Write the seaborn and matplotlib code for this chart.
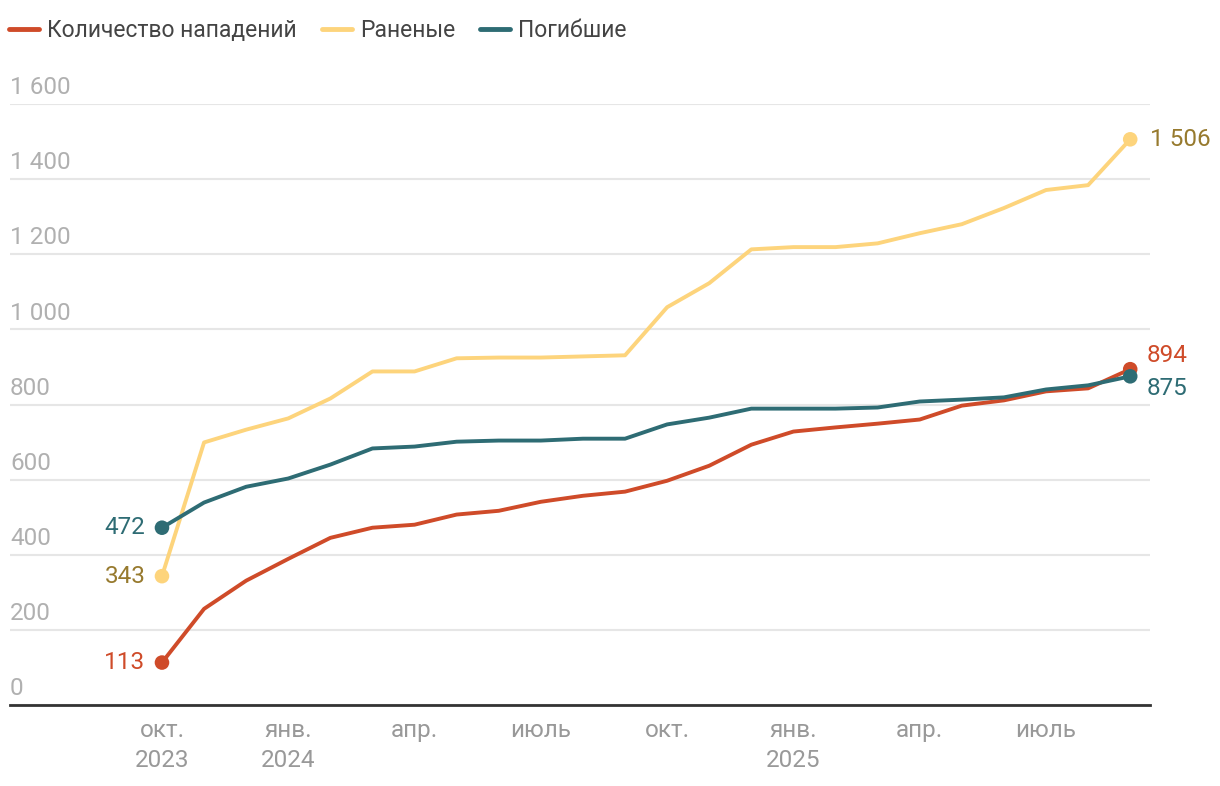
import matplotlib
matplotlib.use("Agg")
import matplotlib.pyplot as plt
import seaborn as sns
import pandas as pd
import numpy as np

# ---- data ----
months = ["2023-10", "2023-11", "2023-12", "2024-01", "2024-02", "2024-03",
          "2024-04", "2024-05", "2024-06", "2024-07", "2024-08", "2024-09",
          "2024-10", "2024-11", "2024-12", "2025-01", "2025-02", "2025-03",
          "2025-04", "2025-05", "2025-06", "2025-07", "2025-08", "2025-09"]
attacks = [113, 256, 331, 389, 445, 472, 480, 507, 517, 541, 557, 568,
           597, 637, 693, 728, 739, 749, 760, 797, 811, 835, 843, 894]
injured = [343, 699, 733, 763, 816, 888, 888, 923, 925, 925, 928, 931,
           1059, 1123, 1213, 1219, 1219, 1229, 1256, 1280, 1323, 1371, 1384, 1506]
killed = [472, 539, 581, 603, 640, 683, 688, 701, 704, 704, 709, 709,
          747, 765, 789, 789, 789, 792, 808, 813, 819, 840, 851, 875]
series_names = ["Количество нападений", "Раненые", "Погибшие"]
tick_positions = [0, 3, 6, 9, 12, 15, 18, 21]
tick_labels = ["окт.\n2023", "янв.\n2024", "апр.", "июль", "окт.", "янв.\n2025", "апр.", "июль"]
y_ticks = [0, 200, 400, 600, 800, 1000, 1200, 1400, 1600]

line_colors = ["#cf4b29", "#fdd47c", "#2e6c74"]
label_colors = ["#cf4b29", "#977a2e", "#2e6c74"]

sns.set_theme(style="white")
plt.rcParams["font.family"] = ["Roboto", "DejaVu Sans"]

idx = np.arange(len(months))
df = pd.concat([
    pd.DataFrame({"i": idx, "value": vals, "series": name})
    for name, vals in zip(series_names, [attacks, injured, killed])
])

fig = plt.figure(figsize=(12.2, 7.86), dpi=100)
ax = fig.add_axes([10/1220, 1 - 705/786, 1140/1220, 601/786])

sns.lineplot(data=df, x="i", y="value", hue="series", hue_order=series_names,
             palette=line_colors, linewidth=2.8, ax=ax, legend=False, zorder=3)

ax.set_xlim(-3.61, 23.47)
ax.set_ylim(0, 1600)

for sp in ["top", "right", "left"]:
    ax.spines[sp].set_visible(False)
ax.spines["bottom"].set_color("#333333")
ax.spines["bottom"].set_linewidth(2)

FS = 17.5
ax.set_yticks(y_ticks)
ax.yaxis.grid(True, color="#e6e6e6", linewidth=1.5)
ax.set_yticklabels([])
ax.tick_params(axis="y", length=0)
for v in y_ticks:
    lab = f"{v:,}".replace(",", " ")
    ax.annotate(lab, xy=(0, v), xycoords=("axes fraction", "data"),
                xytext=(0, 3.5), textcoords="offset points",
                ha="left", va="bottom", fontsize=FS, color="#b0b0b0")

ax.set_xticks(tick_positions)
ax.set_xticklabels(tick_labels, fontsize=FS, color="#999999", linespacing=1.4)
ax.tick_params(axis="x", length=0, pad=10)
ax.set_xlabel("")
ax.set_ylabel("")

# end points and labels
first = 0
last = len(months) - 1
for name, vals, lc, tc in zip(series_names, [attacks, injured, killed], line_colors, label_colors):
    ax.scatter([first, last], [vals[first], vals[last]], s=110, color=lc, zorder=4,
               edgecolor="none")
    ax.annotate(f"{vals[first]:,}".replace(",", " "), xy=(first, vals[first]),
                xytext=(-12, 0), textcoords="offset points", ha="right", va="center",
                fontsize=FS, color=tc)

ax.annotate("1 506", xy=(last, injured[last]), xytext=(14, 0), textcoords="offset points",
            ha="left", va="center", fontsize=FS, color=label_colors[1])
ax.annotate(f"{attacks[last]}", xy=(last, attacks[last]), xytext=(12, 10),
            textcoords="offset points", ha="left", va="center", fontsize=FS,
            color=label_colors[0])
ax.annotate(f"{killed[last]}", xy=(last, killed[last]), xytext=(12, -9),
            textcoords="offset points", ha="left", va="center", fontsize=FS,
            color=label_colors[2])

# legend
from matplotlib.lines import Line2D
handles = [Line2D([0], [0], color=c, linewidth=3.5, solid_capstyle="round") for c in line_colors]
leg = fig.legend(handles, series_names, loc="upper left", bbox_to_anchor=(-0.011, 1.005),
                 ncol=3, frameon=False, fontsize=16.5, handlelength=1.3,
                 handletextpad=0.35, columnspacing=1.1, borderaxespad=0.6)
for t in leg.get_texts():
    t.set_color("#444444")

fig.savefig("out.png", dpi=100)
